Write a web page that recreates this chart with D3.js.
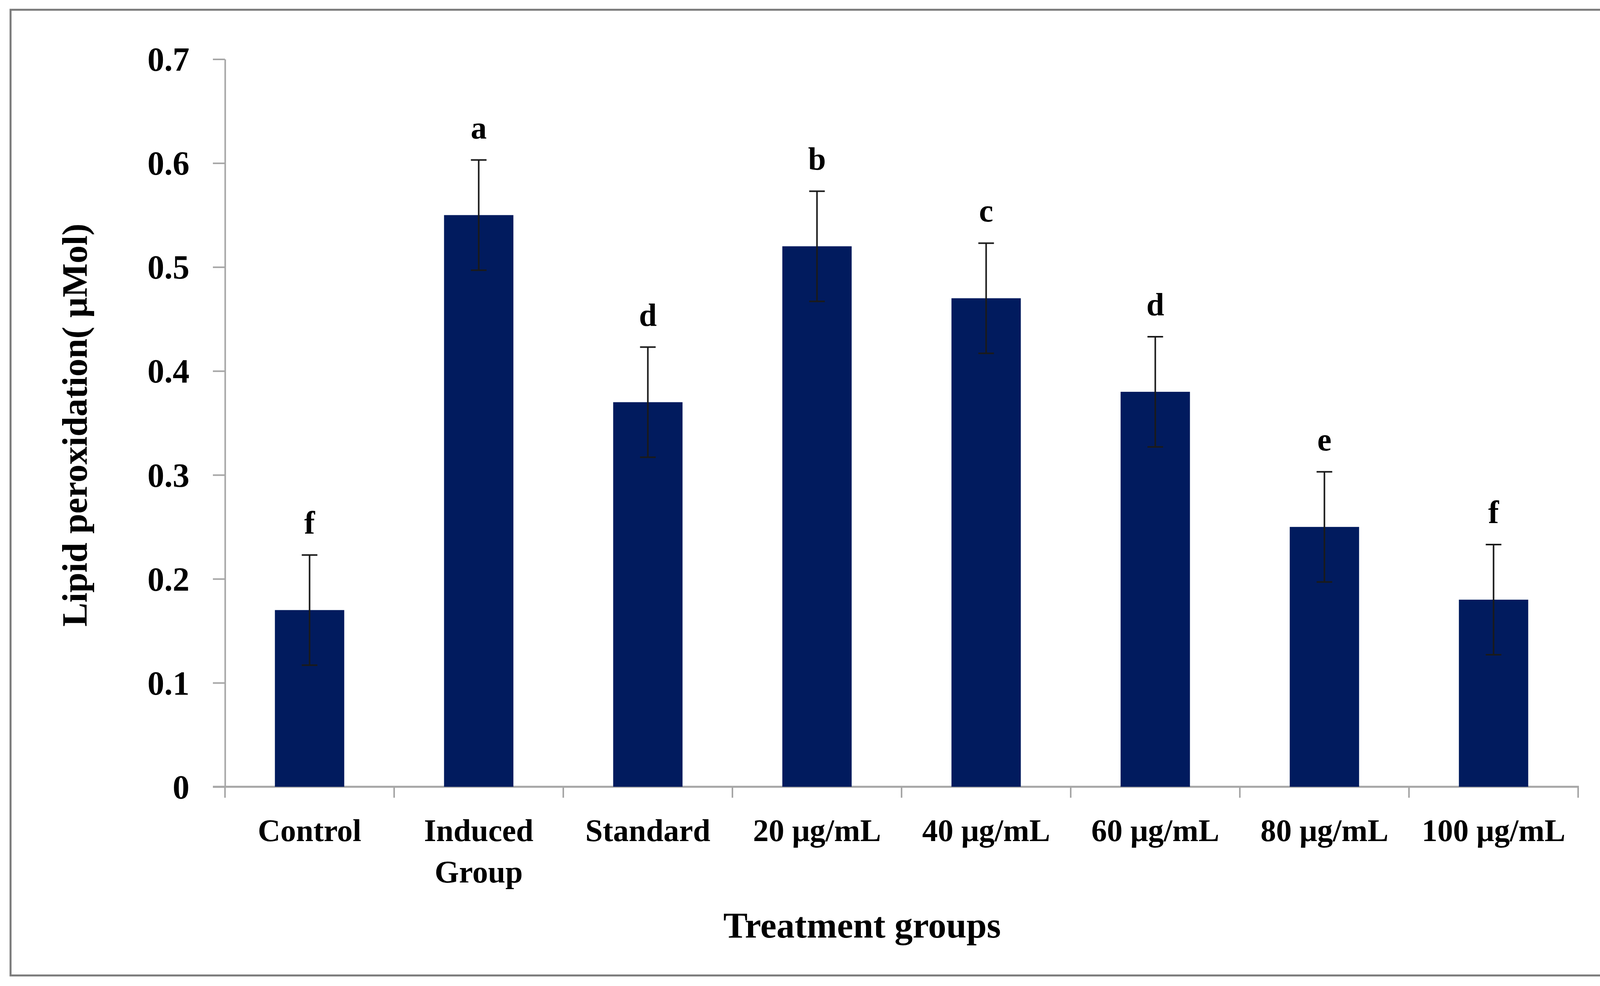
<!DOCTYPE html>
<html>
<head>
<meta charset="utf-8">
<script src="https://cdn.jsdelivr.net/npm/d3@7"></script>
<style>
  html, body { margin: 0; padding: 0; background: #fff; }
  text { font-family: "Liberation Serif", "Times New Roman", serif; font-weight: bold; fill: #000; }
</style>
</head>
<body>
<svg id="chart"></svg>
<script>
// data
const categories = ["Control", "Induced Group", "Standard", "20 μg/mL", "40 μg/mL", "60 μg/mL", "80 μg/mL", "100 μg/mL"];
const values = [0.17, 0.55, 0.37, 0.52, 0.47, 0.38, 0.25, 0.18];
const errors = [0.053, 0.053, 0.053, 0.053, 0.053, 0.053, 0.053, 0.053];
const letters = ["f", "a", "d", "b", "c", "d", "e", "f"];
const yTicks = [0, 0.1, 0.2, 0.3, 0.4, 0.5, 0.6, 0.7];

const W = 4302, H = 2524;
const plot = {left: 576, right: 4040, top: 151.5, bottom: 2014};

let svg = d3.select("#chart")
    .attr("width", W)
    .attr("height", H);

// outer frame
svg.append("rect")
    .attr("x", 27).attr("y", 25)
    .attr("width", 4272 - 27).attr("height", 2497 - 25)
    .attr("fill", "none")
    .attr("stroke", "#7a7a7a")
    .attr("stroke-width", 5);

let xScale = d3.scaleBand()
    .domain(categories)
    .range([plot.left, plot.right])
    .paddingInner(0.59)
    .paddingOuter(0.295);

let yScale = d3.scaleLinear()
    .domain([0, 0.7])
    .range([plot.bottom, plot.top]);

//Add the y Axis
let yAxis = svg.append("g")
    .attr("transform", "translate(" + plot.left + ",0)")
    .call(d3.axisLeft(yScale).tickValues(yTicks).tickSize(31).tickSizeOuter(0).tickPadding(60)
        .tickFormat((d) => { return d === 0 ? "0" : d3.format(".1f")(d); }));
yAxis.selectAll("path, line").attr("stroke", "#a6a6a6").attr("stroke-width", 4);
yAxis.selectAll("text").style("font-size", "86px").attr("fill", "#000").attr("dy", "0.34em");

//Add the x Axis line and boundary ticks
let step = xScale.step();
let bounds = categories.map((c) => { return xScale(c) - step * xScale.paddingInner() / 2; });
bounds.push(bounds[bounds.length - 1] + step);

svg.append("line")
    .attr("x1", plot.left - 31).attr("x2", bounds[bounds.length - 1] + 2)
    .attr("y1", plot.bottom).attr("y2", plot.bottom)
    .attr("stroke", "#a6a6a6").attr("stroke-width", 5);

svg.selectAll(".xtick")
    .data(bounds)
    .enter().append("line")
    .attr("class", "xtick")
    .attr("x1", (d) => { return d; }).attr("x2", (d) => { return d; })
    .attr("y1", plot.bottom).attr("y2", plot.bottom + 28)
    .attr("stroke", "#a6a6a6").attr("stroke-width", 4);

//Add the bars
svg.selectAll(".bar")
    .data(values)
    .enter().append("rect")
    .attr("class", "bar")
    .attr("x", (d, i) => { return xScale(categories[i]); })
    .attr("width", xScale.bandwidth())
    .attr("y", (d) => { return yScale(d); })
    .attr("height", (d) => { return yScale(0) - yScale(d); })
    .attr("fill", "#011b5e");

//Error bars
let err = svg.append("g").attr("stroke", "#1a1a1a").attr("stroke-width", 4);
values.forEach((v, i) => {
    let cx = xScale(categories[i]) + xScale.bandwidth() / 2;
    let top = yScale(v + errors[i]), bot = yScale(v - errors[i]);
    err.append("line").attr("x1", cx).attr("x2", cx).attr("y1", top).attr("y2", bot);
    err.append("line").attr("x1", cx - 20).attr("x2", cx + 20).attr("y1", top).attr("y2", top);
    err.append("line").attr("x1", cx - 20).attr("x2", cx + 20).attr("y1", bot).attr("y2", bot);
});

//Significance letters
svg.selectAll(".letter")
    .data(letters)
    .enter().append("text")
    .attr("class", "letter")
    .attr("x", (d, i) => { return xScale(categories[i]) + xScale.bandwidth() / 2; })
    .attr("y", (d, i) => { return yScale(values[i] + errors[i]) - 55; })
    .attr("text-anchor", "middle")
    .style("font-size", "82px")
    .text((d) => { return d; });

//Category labels
let catLabels = svg.selectAll(".cat")
    .data(categories)
    .enter().append("text")
    .attr("class", "cat")
    .attr("x", (d) => { return xScale(d) + xScale.bandwidth() / 2; })
    .attr("y", 2153)
    .attr("text-anchor", "middle")
    .style("font-size", "80px");

catLabels.each(function (d) {
    let lines = d === "Induced Group" ? ["Induced", "Group"] : [d];
    let t = d3.select(this);
    lines.forEach((l, j) => {
        t.append("tspan")
            .attr("x", t.attr("x"))
            .attr("dy", j === 0 ? 0 : 106)
            .text(l);
    });
});

//Axis titles
svg.append("text")
    .attr("x", 2207).attr("y", 2400)
    .attr("text-anchor", "middle")
    .style("font-size", "93px")
    .text("Treatment groups");

svg.append("text")
    .attr("transform", "translate(222,1088) rotate(-90)")
    .attr("text-anchor", "middle")
    .style("font-size", "92px")
    .text("Lipid peroxidation( μMol)");
</script>
</body>
</html>
